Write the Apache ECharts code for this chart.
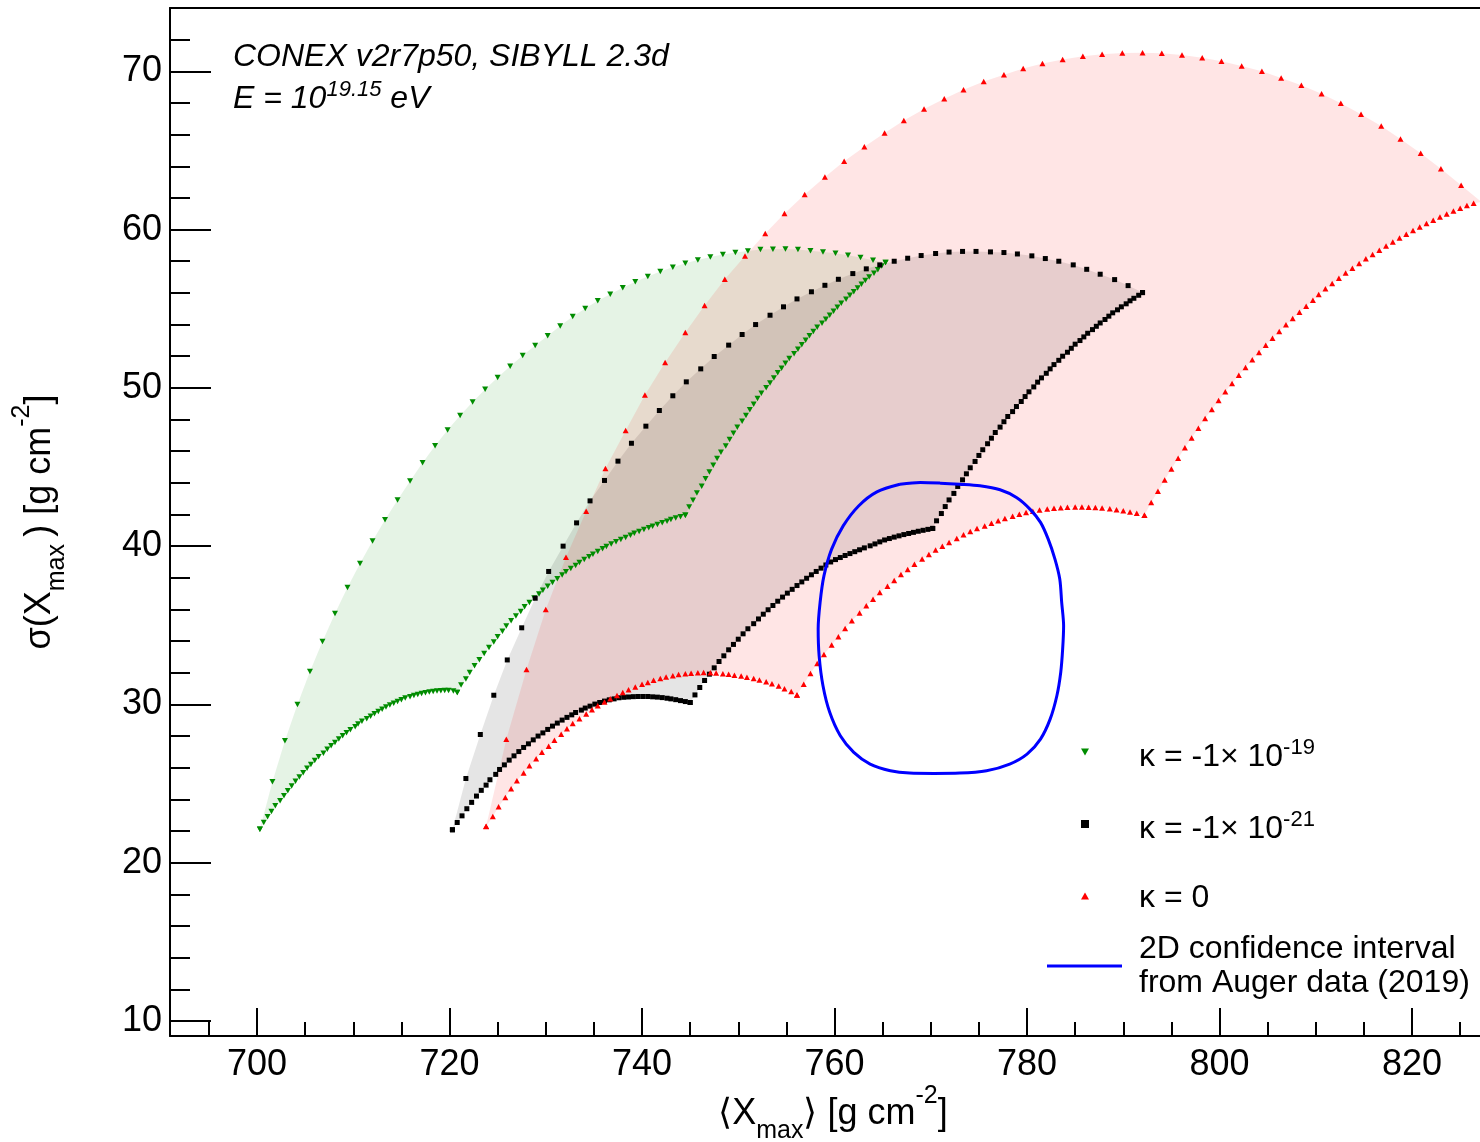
<!DOCTYPE html>
<html><head><meta charset="utf-8">
<script src="https://cdn.jsdelivr.net/npm/echarts@6/dist/echarts.min.js"></script>
<style>html,body{margin:0;padding:0;background:#fff}#c{width:1480px;height:1142px}</style>
</head><body><div id="c"></div>
<script>
// ---- tick values ----
const xMajorTicks = [700, 720, 740, 760, 780, 800, 820];
const xMinorTicks = [695, 700, 705, 710, 715, 720, 725, 730, 735, 740, 745, 750, 755, 760, 765, 770, 775, 780, 785, 790, 795, 800, 805, 810, 815, 820, 825];
const yMajorTicks = [10, 20, 30, 40, 50, 60, 70];
const yMinorTicks = [10, 12, 14, 16, 18, 20, 22, 24, 26, 28, 30, 32, 34, 36, 38, 40, 42, 44, 46, 48, 50, 52, 54, 56, 58, 60, 62, 64, 66, 68, 70, 72];

// ---- kappa = -1e-19 (green) : four edges ----
const greenUpper = [[700.3,22.12],[701.6,25.11],[702.9,27.7],[704.2,30.0],[705.5,32.08],[706.8,33.98],[708.1,35.75],[709.4,37.39],[710.7,38.9],[712.0,40.33],[713.3,41.66],[714.6,42.92],[715.9,44.12],[717.2,45.27],[718.5,46.34],[719.8,47.33],[721.1,48.25],[722.4,49.11],[723.7,49.91],[725.0,50.66],[726.3,51.37],[727.6,52.04],[728.9,52.68],[730.2,53.3],[731.5,53.91],[732.8,54.51],[734.1,55.01],[735.4,55.5],[736.7,55.92],[738.0,56.32],[739.3,56.7],[740.6,57.03],[741.9,57.35],[743.2,57.62],[744.5,57.87],[745.8,58.08],[747.1,58.27],[748.4,58.42],[749.7,58.55],[751.0,58.65],[752.3,58.74],[753.6,58.76],[754.9,58.78],[756.2,58.74],[757.5,58.67],[758.8,58.59],[760.1,58.5],[761.4,58.38],[762.7,58.23],[764.0,58.06],[765.3,57.92]];
const greenRight = [[744.5,41.95],[744.9,42.48],[745.3,42.9],[745.7,43.35],[746.2,43.79],[746.6,44.25],[747.0,44.69],[747.4,45.11],[747.8,45.54],[748.2,45.93],[748.7,46.33],[749.1,46.74],[749.5,47.13],[749.9,47.51],[750.4,47.89],[750.8,48.25],[751.2,48.61],[751.6,48.96],[752.0,49.33],[752.4,49.66],[752.9,50.0],[753.3,50.31],[753.7,50.63],[754.1,50.95],[754.5,51.24],[754.9,51.56],[755.3,51.86],[755.8,52.15],[756.2,52.44],[756.6,52.72],[757.0,53.01],[757.4,53.29],[757.8,53.56],[758.2,53.83],[758.7,54.09],[759.1,54.34],[759.5,54.59],[759.9,54.84],[760.3,55.09],[760.7,55.35],[761.2,55.6],[761.6,55.85],[762.0,56.08],[762.4,56.31],[762.8,56.55],[763.2,56.78],[763.6,57.0],[764.1,57.24],[764.5,57.47],[764.9,57.7],[765.3,57.92]];
const greenMid = [[720.8,30.76],[721.2,31.22],[721.7,31.6],[722.1,32.02],[722.6,32.44],[723.1,32.82],[723.6,33.22],[724.1,33.6],[724.6,33.94],[725.0,34.27],[725.5,34.63],[725.9,34.95],[726.4,35.28],[726.9,35.58],[727.4,35.87],[727.8,36.17],[728.3,36.44],[728.8,36.72],[729.3,36.97],[729.7,37.22],[730.2,37.47],[730.7,37.71],[731.2,37.94],[731.7,38.17],[732.1,38.38],[732.6,38.59],[733.1,38.78],[733.5,38.97],[734.0,39.16],[734.5,39.33],[734.9,39.49],[735.4,39.66],[735.9,39.83],[736.3,39.98],[736.8,40.13],[737.3,40.27],[737.8,40.42],[738.3,40.55],[738.8,40.69],[739.2,40.82],[739.7,40.93],[740.2,41.05],[740.7,41.16],[741.1,41.26],[741.6,41.37],[742.1,41.47],[742.6,41.58],[743.0,41.68],[743.5,41.77],[744.0,41.86],[744.5,41.95]];
const greenLow = [[700.3,22.12],[700.7,22.54],[701.1,22.9],[701.5,23.24],[701.9,23.6],[702.4,23.91],[702.8,24.23],[703.2,24.54],[703.6,24.84],[704.0,25.14],[704.4,25.41],[704.8,25.68],[705.2,25.96],[705.6,26.21],[706.0,26.46],[706.4,26.69],[706.9,26.92],[707.3,27.16],[707.7,27.39],[708.1,27.6],[708.5,27.81],[708.9,28.02],[709.3,28.21],[709.7,28.4],[710.2,28.59],[710.5,28.76],[710.9,28.93],[711.4,29.09],[711.8,29.26],[712.2,29.41],[712.6,29.56],[713.0,29.7],[713.4,29.83],[713.8,29.96],[714.2,30.08],[714.6,30.19],[715.0,30.29],[715.4,30.4],[715.9,30.48],[716.3,30.57],[716.7,30.63],[717.1,30.69],[717.5,30.73],[717.9,30.78],[718.3,30.82],[718.7,30.84],[719.1,30.86],[719.5,30.88],[719.9,30.88],[720.4,30.84],[720.8,30.76]];

// ---- kappa = -1e-21 (black) ----
const blackUpper = [[720.3,22.08],[721.7,25.32],[723.2,28.1],[724.6,30.58],[726.0,32.81],[727.5,34.84],[728.9,36.71],[730.3,38.4],[731.8,40.0],[733.2,41.47],[734.6,42.86],[736.1,44.15],[737.5,45.37],[738.9,46.5],[740.4,47.58],[741.8,48.57],[743.2,49.5],[744.6,50.38],[746.1,51.2],[747.5,51.98],[749.0,52.7],[750.4,53.37],[751.8,54.0],[753.3,54.59],[754.7,55.12],[756.1,55.62],[757.6,56.07],[759.0,56.48],[760.4,56.86],[761.9,57.22],[763.3,57.52],[764.7,57.77],[766.2,58.0],[767.6,58.19],[769.0,58.36],[770.5,58.49],[771.9,58.58],[773.3,58.62],[774.7,58.62],[776.2,58.59],[777.6,58.55],[779.0,58.46],[780.5,58.34],[781.9,58.17],[783.3,58.0],[784.8,57.77],[786.2,57.49],[787.6,57.18],[789.1,56.84],[790.5,56.46],[792.0,56.02]];
const blackRight = [[770.2,41.12],[770.6,41.6],[771.1,42.06],[771.5,42.5],[771.9,42.92],[772.4,43.33],[772.8,43.77],[773.3,44.19],[773.7,44.57],[774.1,44.95],[774.6,45.35],[775.0,45.73],[775.4,46.09],[775.9,46.47],[776.3,46.82],[776.7,47.18],[777.2,47.52],[777.6,47.86],[778.0,48.19],[778.5,48.5],[778.9,48.82],[779.4,49.14],[779.8,49.45],[780.2,49.75],[780.7,50.06],[781.1,50.36],[781.5,50.63],[782.0,50.92],[782.4,51.2],[782.8,51.47],[783.3,51.74],[783.7,52.0],[784.2,52.25],[784.6,52.5],[785.0,52.76],[785.5,52.99],[785.9,53.22],[786.3,53.45],[786.8,53.68],[787.2,53.89],[787.6,54.1],[788.1,54.32],[788.5,54.53],[788.9,54.74],[789.4,54.93],[789.8,55.12],[790.3,55.31],[790.7,55.5],[791.1,55.66],[791.6,55.85],[792.0,56.02]];
const blackMid = [[745.0,30.12],[745.5,30.6],[746.0,31.07],[746.5,31.51],[747.0,31.91],[747.5,32.31],[748.0,32.71],[748.5,33.07],[749.0,33.45],[749.5,33.79],[750.0,34.12],[750.5,34.46],[751.0,34.78],[751.6,35.1],[752.1,35.4],[752.6,35.7],[753.1,35.98],[753.6,36.25],[754.1,36.52],[754.6,36.78],[755.1,37.03],[755.6,37.27],[756.1,37.51],[756.6,37.74],[757.1,37.97],[757.6,38.19],[758.1,38.4],[758.6,38.61],[759.1,38.81],[759.6,39.0],[760.1,39.15],[760.6,39.28],[761.1,39.41],[761.6,39.53],[762.1,39.65],[762.6,39.77],[763.1,39.89],[763.7,40.02],[764.2,40.14],[764.7,40.27],[765.2,40.39],[765.7,40.48],[766.2,40.57],[766.7,40.65],[767.2,40.73],[767.7,40.8],[768.2,40.87],[768.7,40.94],[769.2,41.0],[769.7,41.06],[770.2,41.12]];
const blackLow = [[720.3,22.08],[720.8,22.54],[721.3,22.96],[721.8,23.41],[722.3,23.81],[722.8,24.21],[723.3,24.57],[723.8,24.9],[724.2,25.24],[724.8,25.58],[725.2,25.89],[725.7,26.18],[726.2,26.48],[726.7,26.75],[727.2,27.02],[727.7,27.28],[728.2,27.51],[728.7,27.76],[729.2,28.0],[729.7,28.2],[730.2,28.42],[730.7,28.63],[731.2,28.82],[731.7,29.01],[732.2,29.18],[732.7,29.34],[733.1,29.49],[733.7,29.64],[734.1,29.77],[734.6,29.89],[735.1,30.02],[735.6,30.12],[736.1,30.21],[736.6,30.29],[737.1,30.35],[737.6,30.42],[738.1,30.45],[738.6,30.47],[739.1,30.49],[739.6,30.5],[740.1,30.5],[740.6,30.5],[741.1,30.48],[741.6,30.46],[742.1,30.43],[742.6,30.39],[743.0,30.35],[743.5,30.3],[744.0,30.24],[744.5,30.18],[745.0,30.12]];

// ---- kappa = 0 (red) ----
const redUpper = [[723.8,22.3],[725.9,27.8],[728.0,32.2],[730.0,36.0],[732.1,39.3],[734.2,42.2],[736.2,44.9],[738.3,47.3],[740.3,49.55],[742.4,51.6],[744.5,53.5],[746.5,55.2],[748.6,56.86],[750.7,58.33],[752.8,59.75],[754.8,61.01],[756.9,62.21],[759.0,63.33],[761.0,64.32],[763.1,65.24],[765.2,66.1],[767.2,66.9],[769.3,67.62],[771.4,68.27],[773.4,68.84],[775.5,69.35],[777.6,69.79],[779.6,70.17],[781.6,70.49],[783.7,70.74],[785.8,70.95],[787.8,71.07],[789.9,71.16],[792.0,71.18],[794.0,71.14],[796.1,71.03],[798.2,70.86],[800.2,70.63],[802.3,70.33],[804.4,70.0],[806.4,69.58],[808.5,69.12],[810.6,68.59],[812.6,67.98],[814.7,67.28],[816.8,66.55],[818.8,65.72],[820.9,64.82],[823.0,63.85],[825.1,62.8],[827.2,61.75]];
const redRight = [[792.2,41.95],[792.9,42.76],[793.6,43.47],[794.3,44.18],[795.0,44.88],[795.7,45.56],[796.4,46.21],[797.1,46.84],[797.8,47.45],[798.5,48.07],[799.2,48.63],[799.9,49.2],[800.6,49.75],[801.3,50.28],[802.0,50.8],[802.7,51.29],[803.4,51.77],[804.1,52.23],[804.8,52.69],[805.5,53.14],[806.2,53.56],[806.9,53.98],[807.6,54.38],[808.3,54.78],[809.0,55.16],[809.7,55.54],[810.3,55.9],[811.0,56.26],[811.7,56.59],[812.4,56.93],[813.1,57.25],[813.8,57.56],[814.5,57.85],[815.2,58.15],[815.9,58.42],[816.6,58.7],[817.3,58.97],[818.0,59.22],[818.7,59.47],[819.4,59.7],[820.1,59.94],[820.8,60.17],[821.5,60.38],[822.2,60.59],[822.9,60.8],[823.6,60.99],[824.3,61.18],[825.0,61.35],[825.7,61.52],[826.4,61.66],[827.2,61.75]];
const redMid = [[756.1,30.6],[756.8,31.28],[757.5,31.96],[758.2,32.59],[758.9,33.16],[759.7,33.75],[760.4,34.27],[761.1,34.8],[761.8,35.28],[762.6,35.77],[763.3,36.23],[764.0,36.65],[764.7,37.07],[765.5,37.47],[766.2,37.83],[766.9,38.21],[767.6,38.53],[768.3,38.86],[769.1,39.18],[769.8,39.47],[770.5,39.75],[771.2,40.0],[771.9,40.23],[772.7,40.49],[773.4,40.72],[774.1,40.93],[774.8,41.11],[775.6,41.28],[776.3,41.45],[777.0,41.61],[777.7,41.75],[778.5,41.89],[779.2,42.01],[779.9,42.12],[780.6,42.21],[781.3,42.28],[782.1,42.34],[782.8,42.39],[783.5,42.43],[784.2,42.46],[785.0,42.48],[785.7,42.48],[786.4,42.46],[787.1,42.44],[787.8,42.41],[788.6,42.37],[789.3,42.3],[790.0,42.23],[790.7,42.16],[791.4,42.08],[792.2,41.95]];
const redLow = [[723.8,22.29],[724.5,22.92],[725.1,23.53],[725.8,24.12],[726.4,24.67],[727.0,25.17],[727.7,25.66],[728.3,26.12],[729.0,26.56],[729.6,26.98],[730.3,27.36],[730.9,27.74],[731.6,28.12],[732.2,28.46],[732.8,28.8],[733.5,29.09],[734.2,29.39],[734.8,29.66],[735.4,29.92],[736.1,30.15],[736.7,30.36],[737.4,30.57],[738.0,30.76],[738.6,30.93],[739.3,31.1],[740.0,31.27],[740.6,31.39],[741.2,31.52],[741.9,31.64],[742.5,31.73],[743.2,31.81],[743.8,31.89],[744.5,31.93],[745.1,31.97],[745.8,32.0],[746.4,32.01],[747.1,32.0],[747.7,31.98],[748.4,31.94],[749.0,31.9],[749.6,31.85],[750.3,31.79],[750.9,31.72],[751.6,31.64],[752.2,31.55],[752.9,31.43],[753.5,31.3],[754.2,31.16],[754.8,30.99],[755.5,30.82],[756.1,30.6]];

// ---- Auger 2D confidence contour ----
const augerContour = [[766.8,43.91],[768.9,44.02],[771.0,43.98],[773.0,43.91],[775.1,43.81],[777.2,43.56],[778.9,43.07],[780.3,42.34],[781.4,41.5],[782.2,40.44],[782.9,39.18],[783.4,37.92],[783.6,36.44],[783.8,34.97],[783.7,33.49],[783.5,32.02],[783.1,30.55],[782.4,29.07],[781.4,27.81],[780.0,26.86],[778.2,26.23],[775.8,25.81],[773.0,25.66],[770.3,25.64],[767.8,25.66],[765.8,25.81],[763.7,26.23],[762.0,26.97],[760.6,28.02],[759.5,29.5],[758.8,31.18],[758.4,33.07],[758.3,34.76],[758.5,36.44],[758.9,38.12],[759.7,39.81],[760.9,41.28],[762.5,42.54],[764.4,43.43],[766.8,43.91]];

const FONT = '"Liberation Sans", Arial, Helvetica, sans-serif';
const X_MIN = 690.96, X_MAX = 827.06, Y_MIN = 9.05, Y_MAX = 74.0;

function ringOf(up, right, mid, low) {
  return up.concat(right.slice().reverse(), mid.slice().reverse(), low.slice().reverse());
}
function fillSeries(name, ring, color) {
  return {
    type: 'custom', name: name, clip: true, silent: true,
    data: ring, encode: { x: 0, y: 1 },
    renderItem: function (params, api) {
      if (params.dataIndex !== 0) return null;
      const pts = ring.map(function (p) { return api.coord(p); });
      return { type: 'polygon', shape: { points: pts }, style: { fill: color } };
    }
  };
}
function markerSeries(name, pts, symbol, rotate, size, color) {
  return {
    type: 'scatter', name: name, data: pts, symbol: symbol, symbolRotate: rotate,
    symbolSize: size, itemStyle: { color: color, opacity: 1 }, clip: true, silent: true
  };
}

const subStyle = { fontSize: 25, fontFamily: FONT, color: '#000', lineHeight: 24, verticalAlign: 'bottom' };
const supStyle = { fontSize: 25, fontFamily: FONT, color: '#000', lineHeight: 34, verticalAlign: 'top' };

const chart = echarts.init(document.getElementById('c'), null, { renderer: 'canvas' });
const option = {
  animation: false,
  backgroundColor: '#ffffff',
  grid: { left: 170, right: 0, top: 8, bottom: 106, containLabel: false, outerBoundsMode: 'none' },
  xAxis: [
    {
      type: 'value', min: X_MIN, max: X_MAX, position: 'bottom',
      axisLine: { show: true, onZero: false, lineStyle: { color: '#000', width: 2 } },
      axisTick: { show: true, inside: true, length: 28, customValues: xMajorTicks, lineStyle: { color: '#000', width: 2 } },
      axisLabel: { show: true, customValues: xMajorTicks, fontSize: 36, fontFamily: FONT, color: '#000', margin: 11 },
      splitLine: { show: false },
      name: '\u27E8X{sub|max}\u27E9 [g cm{sup|-2}]',
      nameLocation: 'middle', nameGap: 48, nameMoveOverlap: false,
      nameTextStyle: { fontSize: 36, fontFamily: FONT, color: '#000', lineHeight: 60, padding: [0, 0, 0, 16], rich: { sub: subStyle, sup: supStyle } }
    },
    {
      type: 'value', min: X_MIN, max: X_MAX, position: 'bottom',
      axisLine: { show: false, onZero: false },
      axisTick: { show: true, inside: true, length: 14, customValues: xMinorTicks, lineStyle: { color: '#000', width: 2 } },
      axisLabel: { show: false }, splitLine: { show: false }
    },
    {
      type: 'value', min: X_MIN, max: X_MAX, position: 'top',
      axisLine: { show: true, onZero: false, lineStyle: { color: '#000', width: 2 } },
      axisTick: { show: false }, axisLabel: { show: false }, splitLine: { show: false }
    }
  ],
  yAxis: [
    {
      type: 'value', min: Y_MIN, max: Y_MAX, position: 'left',
      axisLine: { show: true, onZero: false, lineStyle: { color: '#000', width: 2 } },
      axisTick: { show: true, inside: true, length: 41, customValues: yMajorTicks, lineStyle: { color: '#000', width: 2 } },
      axisLabel: { show: true, customValues: yMajorTicks, fontSize: 36, fontFamily: FONT, color: '#000', margin: 8 },
      splitLine: { show: false },
      name: '\u03C3(X{sub|max}\u2009) [g cm{sup|-2}]',
      nameLocation: 'middle', nameGap: 100, nameRotate: 90, nameMoveOverlap: false,
      nameTextStyle: { fontSize: 36, fontFamily: FONT, color: '#000', lineHeight: 60, rich: { sub: subStyle, sup: supStyle } }
    },
    {
      type: 'value', min: Y_MIN, max: Y_MAX, position: 'left',
      axisLine: { show: false, onZero: false },
      axisTick: { show: true, inside: true, length: 20, customValues: yMinorTicks, lineStyle: { color: '#000', width: 2 } },
      axisLabel: { show: false }, splitLine: { show: false }
    }
  ],
  series: [
    { type: 'line', name: '2D confidence interval from Auger data (2019)', data: augerContour, smooth: 0.3,
      symbol: 'none', lineStyle: { color: '#0000ff', width: 3 }, clip: true, silent: true },
    fillSeries('green band', ringOf(greenUpper, greenRight, greenMid, greenLow), 'rgba(0,140,0,0.1)'),
    markerSeries('\u03BA = -1\u00D710^-19', greenUpper.concat(greenRight, greenMid, greenLow), 'triangle', 180, [6, 5.5], '#008c00'),
    fillSeries('black band', ringOf(blackUpper, blackRight, blackMid, blackLow), 'rgba(0,0,0,0.1)'),
    markerSeries('\u03BA = -1\u00D710^-21', blackUpper.concat(blackRight, blackMid, blackLow), 'rect', 0, 5, '#000000'),
    fillSeries('red band', ringOf(redUpper, redRight, redMid, redLow), 'rgba(255,0,0,0.1)'),
    markerSeries('\u03BA = 0', redUpper.concat(redRight, redMid, redLow), 'triangle', 0, [6, 5.5], '#ff0000')
  ],
  graphic: [
    { type: 'text', x: 233, y: 57, silent: true,
      style: { text: 'CONEX v2r7p50, SIBYLL 2.3d', font: 'italic 32px ' + FONT, fill: '#000', align: 'left', verticalAlign: 'middle' } },
    { type: 'text', x: 233, y: 99, silent: true,
      style: { text: 'E = 10{s|19.15} eV', font: 'italic 32px ' + FONT, fill: '#000', lineHeight: 40, align: 'left', verticalAlign: 'middle',
        rich: { s: { font: 'italic 22px ' + FONT, fill: '#000', lineHeight: 20, verticalAlign: 'top' } } } },
    // legend
    { type: 'polygon', silent: true, shape: { points: [[1081, 748.5], [1089, 748.5], [1085, 755.5]] }, style: { fill: '#008c00' } },
    { type: 'text', x: 1139, y: 757, silent: true,
      style: { text: '\u03BA = -1\u00D7 10{s|-19}', font: '32px ' + FONT, fill: '#000', lineHeight: 40, align: 'left', verticalAlign: 'middle',
        rich: { s: { font: '22px ' + FONT, fill: '#000', lineHeight: 20, verticalAlign: 'top' } } } },
    { type: 'rect', silent: true, shape: { x: 1081, y: 820, width: 8, height: 8 }, style: { fill: '#000' } },
    { type: 'text', x: 1139, y: 829, silent: true,
      style: { text: '\u03BA = -1\u00D7 10{s|-21}', font: '32px ' + FONT, fill: '#000', lineHeight: 40, align: 'left', verticalAlign: 'middle',
        rich: { s: { font: '22px ' + FONT, fill: '#000', lineHeight: 20, verticalAlign: 'top' } } } },
    { type: 'polygon', silent: true, shape: { points: [[1081, 899.5], [1089, 899.5], [1085, 892.5]] }, style: { fill: '#ff0000' } },
    { type: 'text', x: 1139, y: 898, silent: true,
      style: { text: '\u03BA = 0', font: '32px ' + FONT, fill: '#000', align: 'left', verticalAlign: 'middle' } },
    { type: 'line', silent: true, shape: { x1: 1047, y1: 966, x2: 1122, y2: 966 }, style: { stroke: '#0000ff', lineWidth: 3 } },
    { type: 'text', x: 1139, y: 949, silent: true,
      style: { text: '2D confidence interval', font: '32px ' + FONT, fill: '#000', align: 'left', verticalAlign: 'middle' } },
    { type: 'text', x: 1139, y: 983, silent: true,
      style: { text: 'from Auger data (2019)', font: '32px ' + FONT, fill: '#000', align: 'left', verticalAlign: 'middle' } }
  ]
};
chart.setOption(option);
</script>
</body></html>
